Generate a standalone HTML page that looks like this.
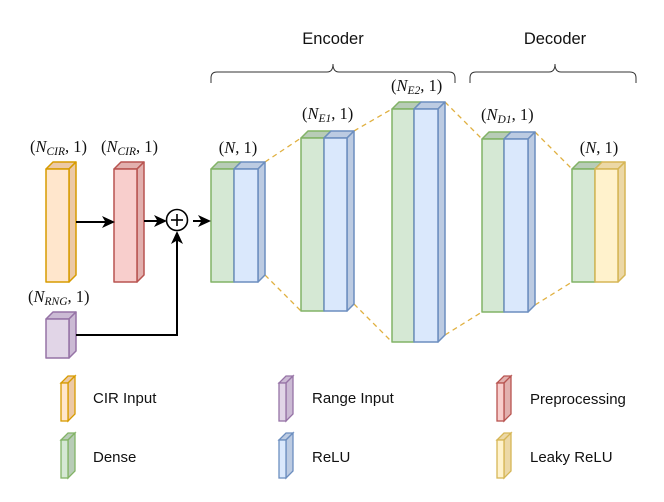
<!DOCTYPE html>
<html><head><meta charset="utf-8"><style>
html,body{margin:0;padding:0;background:#fff;}
svg{display:block}
.m{font-family:"Liberation Serif",serif;font-size:16.5px;fill:#111}
.s{font-family:"Liberation Sans",sans-serif;fill:#111}
</style></head><body>
<svg width="664" height="502" viewBox="0 0 664 502" xmlns="http://www.w3.org/2000/svg">
<defs>
<marker id="ar" markerWidth="13" markerHeight="12" refX="11" refY="6" orient="auto" markerUnits="userSpaceOnUse">
<path d="M0,0 L13,6 L0,12 L3.5,6 z" fill="#000"/></marker>
</defs>
<text x="333" y="44" text-anchor="middle" class="s" font-size="16.5">Encoder</text>
<text x="555" y="44" text-anchor="middle" class="s" font-size="16.5">Decoder</text>
<path d="M211,83 L211,78 Q211,72 217,72 L327,72 Q333,72 333,64 Q333,72 339,72 L449,72 Q455,72 455,78 L455,83" fill="none" stroke="#333" stroke-width="1"/>
<path d="M470,83 L470,78 Q470,72 476,72 L549,72 Q555,72 555,64 Q555,72 561,72 L630,72 Q636,72 636,78 L636,83" fill="none" stroke="#333" stroke-width="1"/>
<g stroke="#e0b040" stroke-width="1.3" stroke-dasharray="5,4" fill="none">
<line x1="265" y1="162" x2="301" y2="138"/>
<line x1="265" y1="275" x2="301" y2="311"/>
<line x1="354" y1="131" x2="392" y2="109"/>
<line x1="354" y1="304" x2="392" y2="342"/>
<line x1="445" y1="102" x2="482" y2="139"/>
<line x1="445" y1="335" x2="482" y2="312"/>
<line x1="535" y1="132" x2="572" y2="169"/>
<line x1="535" y1="305" x2="572" y2="282"/>
</g>
<g stroke-width="1.5" stroke-linejoin="round">
<polygon points="46,169 53,162 76,162 69,169" fill="#ecc9a6" stroke="#d79b00"/>
<polygon points="69,169 76,162 76,275 69,282" fill="#ecc9a6" stroke="#d79b00"/>
<rect x="46" y="169" width="23" height="113" fill="#ffe6cc" stroke="#d79b00"/>
<polygon points="114,169 121,162 144,162 137,169" fill="#e2b0ae" stroke="#b85450"/>
<polygon points="137,169 144,162 144,275 137,282" fill="#e2b0ae" stroke="#b85450"/>
<rect x="114" y="169" width="23" height="113" fill="#f8cecc" stroke="#b85450"/>
<polygon points="46,319 53,312 76,312 69,319" fill="#cbbad4" stroke="#9673a6"/>
<polygon points="69,319 76,312 76,351 69,358" fill="#cbbad4" stroke="#9673a6"/>
<rect x="46" y="319" width="23" height="39" fill="#e1d5e7" stroke="#9673a6"/>

<polygon points="211,169 218,162 241,162 234,169" fill="#b8ccb7" stroke="#82b366"/>
<rect x="211" y="169" width="23" height="113" fill="#d5e8d4" stroke="#82b366"/>
<polygon points="234,169 241,162 265,162 258,169" fill="#bccbe2" stroke="#6c8ebf"/>
<polygon points="258,169 265,162 265,275 258,282" fill="#bccbe2" stroke="#6c8ebf"/>
<rect x="234" y="169" width="24" height="113" fill="#dae8fc" stroke="#6c8ebf"/>
<polygon points="301,138 308,131 331,131 324,138" fill="#b8ccb7" stroke="#82b366"/>
<rect x="301" y="138" width="23" height="173" fill="#d5e8d4" stroke="#82b366"/>
<polygon points="324,138 331,131 354,131 347,138" fill="#bccbe2" stroke="#6c8ebf"/>
<polygon points="347,138 354,131 354,304 347,311" fill="#bccbe2" stroke="#6c8ebf"/>
<rect x="324" y="138" width="23" height="173" fill="#dae8fc" stroke="#6c8ebf"/>
<polygon points="392,109 399,102 421,102 414,109" fill="#b8ccb7" stroke="#82b366"/>
<rect x="392" y="109" width="22" height="233" fill="#d5e8d4" stroke="#82b366"/>
<polygon points="414,109 421,102 445,102 438,109" fill="#bccbe2" stroke="#6c8ebf"/>
<polygon points="438,109 445,102 445,335 438,342" fill="#bccbe2" stroke="#6c8ebf"/>
<rect x="414" y="109" width="24" height="233" fill="#dae8fc" stroke="#6c8ebf"/>
<polygon points="482,139 489,132 511,132 504,139" fill="#b8ccb7" stroke="#82b366"/>
<rect x="482" y="139" width="22" height="173" fill="#d5e8d4" stroke="#82b366"/>
<polygon points="504,139 511,132 535,132 528,139" fill="#bccbe2" stroke="#6c8ebf"/>
<polygon points="528,139 535,132 535,305 528,312" fill="#bccbe2" stroke="#6c8ebf"/>
<rect x="504" y="139" width="24" height="173" fill="#dae8fc" stroke="#6c8ebf"/>
<polygon points="572,169 579,162 602,162 595,169" fill="#b8ccb7" stroke="#82b366"/>
<rect x="572" y="169" width="23" height="113" fill="#d5e8d4" stroke="#82b366"/>
<polygon points="595,169 602,162 625,162 618,169" fill="#ecd8a6" stroke="#d6b656"/>
<polygon points="618,169 625,162 625,275 618,282" fill="#ecd8a6" stroke="#d6b656"/>
<rect x="595" y="169" width="23" height="113" fill="#fff2cc" stroke="#d6b656"/>
</g>
<g stroke="#000" stroke-width="2" fill="none">
<line x1="76" y1="222" x2="113" y2="222" marker-end="url(#ar)"/>
<line x1="144" y1="221" x2="165" y2="221" marker-end="url(#ar)"/>
<line x1="193" y1="221" x2="209" y2="221" marker-end="url(#ar)"/>
<polyline points="76,335 177,335 177,233" marker-end="url(#ar)"/>
<circle cx="177" cy="220" r="10.5" stroke-width="1.6"/>
<line x1="171" y1="220" x2="183" y2="220" stroke-width="1.6"/>
<line x1="177" y1="214" x2="177" y2="226" stroke-width="1.6"/>
</g>
<text x="30" y="152" class="m">(<tspan font-style="italic">N</tspan><tspan font-style="italic" font-size="11.5" dy="3">CIR</tspan><tspan dy="-3">, 1)</tspan></text>
<text x="101" y="152" class="m">(<tspan font-style="italic">N</tspan><tspan font-style="italic" font-size="11.5" dy="3">CIR</tspan><tspan dy="-3">, 1)</tspan></text>
<text x="28" y="302" class="m">(<tspan font-style="italic">N</tspan><tspan font-style="italic" font-size="11.5" dy="3">RNG</tspan><tspan dy="-3">, 1)</tspan></text>
<text x="238" y="153" text-anchor="middle" class="m">(<tspan font-style="italic">N</tspan>, 1)</text>
<text x="302" y="119" class="m">(<tspan font-style="italic">N</tspan><tspan font-style="italic" font-size="11.5" dy="3">E1</tspan><tspan dy="-3">, 1)</tspan></text>
<text x="391" y="91" class="m">(<tspan font-style="italic">N</tspan><tspan font-style="italic" font-size="11.5" dy="3">E2</tspan><tspan dy="-3">, 1)</tspan></text>
<text x="481" y="120" class="m">(<tspan font-style="italic">N</tspan><tspan font-style="italic" font-size="11.5" dy="3">D1</tspan><tspan dy="-3">, 1)</tspan></text>
<text x="599" y="153" text-anchor="middle" class="m">(<tspan font-style="italic">N</tspan>, 1)</text>
<g stroke-width="1.3">
<g stroke="#d79b00"><polygon points="61,383 68,376 75,376 68,383" fill="#ecc9a6"/><polygon points="68,383 75,376 75,414 68,421" fill="#ecc9a6"/><rect x="61" y="383" width="7" height="38" fill="#ffe6cc"/></g>
<g stroke="#82b366"><polygon points="61,440 68,433 75,433 68,440" fill="#b8ccb7"/><polygon points="68,440 75,433 75,471 68,478" fill="#b8ccb7"/><rect x="61" y="440" width="7" height="38" fill="#d5e8d4"/></g>
<g stroke="#9673a6"><polygon points="279,383 286,376 293,376 286,383" fill="#cbbad4"/><polygon points="286,383 293,376 293,414 286,421" fill="#cbbad4"/><rect x="279" y="383" width="7" height="38" fill="#e1d5e7"/></g>
<g stroke="#6c8ebf"><polygon points="279,440 286,433 293,433 286,440" fill="#bccbe2"/><polygon points="286,440 293,433 293,471 286,478" fill="#bccbe2"/><rect x="279" y="440" width="7" height="38" fill="#dae8fc"/></g>
<g stroke="#b85450"><polygon points="497,383 504,376 511,376 504,383" fill="#e2b0ae"/><polygon points="504,383 511,376 511,414 504,421" fill="#e2b0ae"/><rect x="497" y="383" width="7" height="38" fill="#f8cecc"/></g>
<g stroke="#d6b656"><polygon points="497,440 504,433 511,433 504,440" fill="#ecd8a6"/><polygon points="504,440 511,433 511,471 504,478" fill="#ecd8a6"/><rect x="497" y="440" width="7" height="38" fill="#fff2cc"/></g>
</g>
<g class="s" font-size="15">
<text x="93" y="403">CIR Input</text>
<text x="93" y="462">Dense</text>
<text x="312" y="403">Range Input</text>
<text x="312" y="462">ReLU</text>
<text x="530" y="404">Preprocessing</text>
<text x="530" y="462">Leaky ReLU</text>
</g>
</svg>
</body></html>
